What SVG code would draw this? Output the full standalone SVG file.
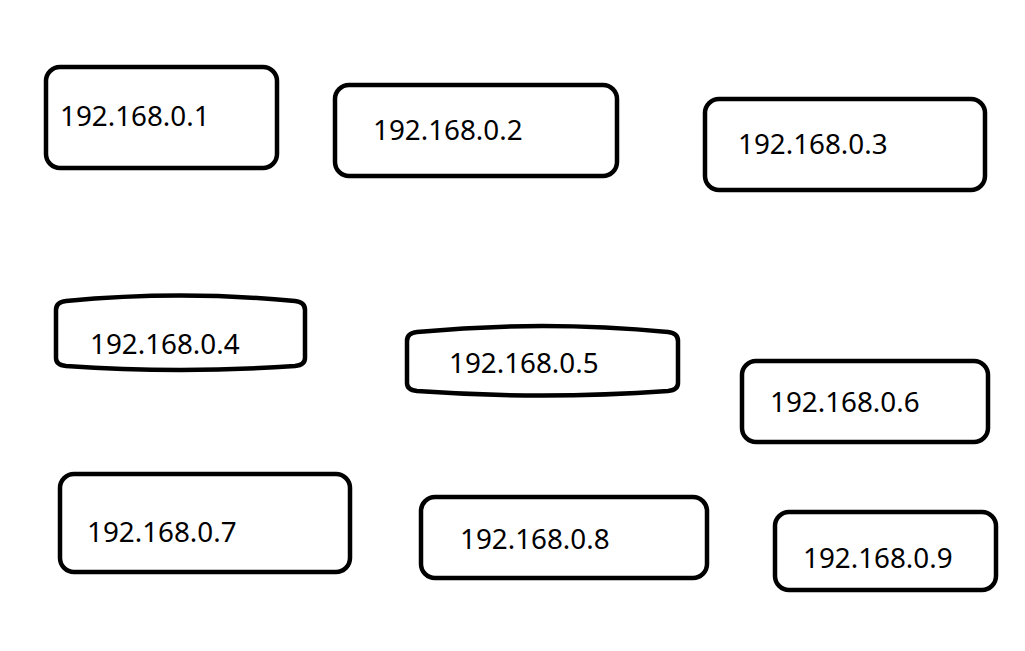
<svg xmlns="http://www.w3.org/2000/svg" width="1025" height="651" viewBox="0 0 1025 651">
<style>
.box{fill:#fff;stroke:#000;stroke-width:4.5}
.lbl{font-family:"Noto Sans","Open Sans","Liberation Sans",sans-serif;font-size:27.8px;fill:#000}
</style>
<rect width="1025" height="651" fill="#fff"/>
<g id="node1"><rect class="box" x="46" y="67" width="231" height="101" rx="14"/><text class="lbl" x="60" y="126">192.168.0.1</text></g>
<g id="node2"><rect class="box" x="335" y="85" width="282" height="91" rx="14"/><text class="lbl" x="373" y="140">192.168.0.2</text></g>
<g id="node3"><rect class="box" x="705" y="99" width="280" height="91" rx="14"/><text class="lbl" x="738" y="154">192.168.0.3</text></g>
<g id="node4"><path class="box" d="M56,310 Q56,302 66,301 Q180,290 295,301 Q305,302 305,310 L305,358 Q305,365 295,366 Q180,374 66,366 Q56,365 56,358 Z"/><text class="lbl" x="90" y="354">192.168.0.4</text></g>
<g id="node5"><path class="box" d="M407,341 Q407,333 417,332 Q542,320 668,332 Q678,333 678,341 L678,383 Q678,390 668,391 Q542,400 417,391 Q407,390 407,383 Z"/><text class="lbl" x="449" y="373">192.168.0.5</text></g>
<g id="node6"><rect class="box" x="742" y="361" width="246" height="81" rx="14"/><text class="lbl" x="770" y="412">192.168.0.6</text></g>
<g id="node7"><rect class="box" x="60" y="474" width="290" height="98" rx="14"/><text class="lbl" x="87" y="542">192.168.0.7</text></g>
<g id="node8"><rect class="box" x="421" y="497" width="286" height="81" rx="14"/><text class="lbl" x="460" y="549">192.168.0.8</text></g>
<g id="node9"><rect class="box" x="775" y="512" width="221" height="78" rx="14"/><text class="lbl" x="803" y="568">192.168.0.9</text></g>
<g id="connectors"/>
</svg>
